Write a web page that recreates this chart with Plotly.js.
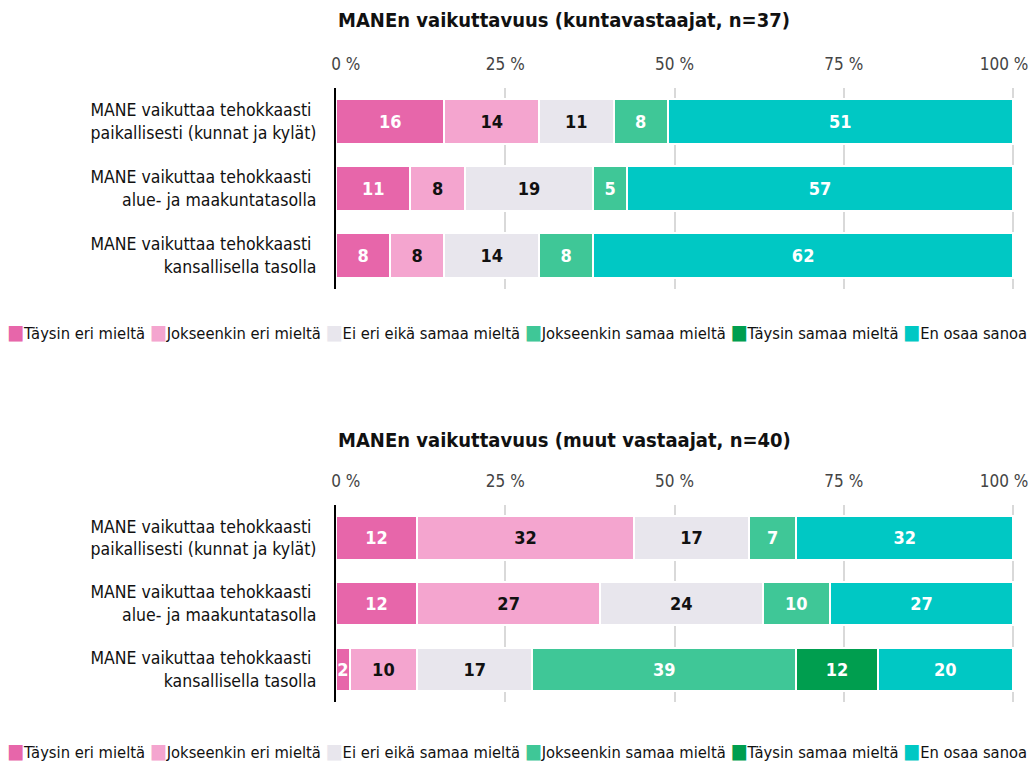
<!DOCTYPE html>
<html><head><meta charset="utf-8">
<script src="https://cdn.plot.ly/plotly-3.0.1.min.js"></script>
<style>html,body{margin:0;padding:0;background:#fff}#chart{width:1034px;height:765px}
svg text{font-stretch:condensed !important}</style>
</head><body><div id="chart"></div>
<script>
const categories = [
  "MANE vaikuttaa tehokkaasti <br>paikallisesti (kunnat ja kylät)",
  "MANE vaikuttaa tehokkaasti <br>alue- ja maakuntatasolla",
  "MANE vaikuttaa tehokkaasti <br>kansallisella tasolla"
];
const seriesNames = ["Täysin eri mieltä", "Jokseenkin eri mieltä", "Ei eri eikä samaa mieltä", "Jokseenkin samaa mieltä", "Täysin samaa mieltä", "En osaa sanoa"];
const seriesColors = ["#e766aa", "#f4a5cf", "#e8e6ed", "#3fc797", "#009e4f", "#00c8c4"];
const labelColors = ["#ffffff", "#111111", "#111111", "#ffffff", "#ffffff", "#ffffff"];

const tickVals = [0, 25, 50, 75, 100];
const tickLabels = ["0 %", "25 %", "50 %", "75 %", "100 %"];

const title1 = "MANEn vaikuttavuus (kuntavastaajat, n=37)";
const kunta_taysinEri = [16, 11, 8];
const kunta_jokseenkinEri = [14, 8, 8];
const kunta_eiEri = [11, 19, 14];
const kunta_jokseenkinSamaa = [8, 5, 8];
const kunta_taysinSamaa = [0, 0, 0];
const kunta_enOsaa = [51, 57, 62];

const title2 = "MANEn vaikuttavuus (muut vastaajat, n=40)";
const muut_taysinEri = [12, 12, 2];
const muut_jokseenkinEri = [32, 27, 10];
const muut_eiEri = [17, 24, 17];
const muut_jokseenkinSamaa = [7, 10, 39];
const muut_taysinSamaa = [0, 0, 12];
const muut_enOsaa = [32, 27, 20];

const FONT = "'DejaVu Sans Condensed', 'DejaVu Sans', sans-serif";

const kunta = [kunta_taysinEri, kunta_jokseenkinEri, kunta_eiEri, kunta_jokseenkinSamaa, kunta_taysinSamaa, kunta_enOsaa];
const muut = [muut_taysinEri, muut_jokseenkinEri, muut_eiEri, muut_jokseenkinSamaa, muut_taysinSamaa, muut_enOsaa];

const traces = [];
function addTraces(sets, xa, ya) {
  sets.forEach((vals, i) => {
    traces.push({
      type: "bar", orientation: "h",
      x: vals, y: categories, xaxis: xa, yaxis: ya,
      name: seriesNames[i], showlegend: false,
      marker: {color: seriesColors[i], line: {color: "#ffffff", width: 2}},
      text: vals.map(v => v > 0 ? String(v) : ""),
      textposition: "inside", insidetextanchor: "middle",
      textfont: {family: FONT, size: 18, color: labelColors[i], weight: "bold"},
      hoverinfo: "name+x", width: 0.66
    });
  });
}
addTraces(kunta, "x", "y");
addTraces(muut, "x2", "y2");

// end labels kept inside the plot width (like the reference)
const NB = "\u00a0";
const last = tickLabels.length - 1;
const mainTicks = tickLabels.map((t, i) => i === 0 ? NB.repeat(4) + t : (i === last ? "" : t));

const RMAX = 100.5;
const xDom = [336/1034, (336 + 677 * RMAX / 100)/1034];
const tickFont = {family: FONT, size: 17, color: "#444"};
function xAxis(anchor) {
  return {
    domain: xDom, range: [0, RMAX], side: "top", anchor: anchor,
    tickvals: tickVals, ticktext: mainTicks,
    showgrid: true, gridcolor: "#d9d9d9", gridwidth: 2, zeroline: false,
    showline: false, ticks: "", ticklabelstandoff: 14,
    tickfont: tickFont, fixedrange: true
  };
}
function xAxisEnd(anchor, over) {
  return {
    domain: xDom, range: [0, RMAX], side: "top", anchor: anchor, overlaying: over,
    tickvals: [tickVals[last]], ticktext: [tickLabels[last]], ticklabelshift: -9,
    showgrid: false, zeroline: false, showline: false, ticks: "", ticklabelstandoff: 14,
    tickfont: tickFont, fixedrange: true
  };
}
function yAxis(dom, anchor) {
  return {
    domain: dom, anchor: anchor, autorange: "reversed", type: "category",
    showline: true, linecolor: "#000", linewidth: 2, showgrid: false,
    ticks: "", ticklabelstandoff: 14,
    tickfont: {family: FONT, size: 17.5, color: "#111"}, fixedrange: true
  };
}

function legendText() {
  return seriesNames.map((n, i) =>
    "<span style='color:" + seriesColors[i] + ";font-size:20px'>■</span>" + n).join(" ");
}

// dummy invisible traces so the overlay axes are drawn
traces.push({type: "bar", orientation: "h", x: [], y: [], xaxis: "x3", yaxis: "y", showlegend: false, hoverinfo: "skip"});
traces.push({type: "bar", orientation: "h", x: [], y: [], xaxis: "x4", yaxis: "y2", showlegend: false, hoverinfo: "skip"});

const layout = {
  width: 1034, height: 765,
  margin: {l: 0, r: 0, t: 0, b: 0},
  paper_bgcolor: "#fff", plot_bgcolor: "#fff",
  barmode: "stack", bargap: 0.34,
  showlegend: false,
  uniformtext: {mode: "show", minsize: 18},
  font: {family: FONT, color: "#111"},
  xaxis: xAxis("y"),
  yaxis: yAxis([1 - 289/765, 1 - 88/765], "x"),
  xaxis2: xAxis("y2"),
  yaxis2: yAxis([1 - 702/765, 1 - 505/765], "x2"),
  xaxis3: xAxisEnd("y", "x"),
  xaxis4: xAxisEnd("y2", "x2"),
  annotations: [
    {text: "<b>" + title1 + "</b>", xref: "paper", yref: "paper", x: 564/1034, y: 1 - 20/765,
     showarrow: false, xanchor: "center", yanchor: "middle", font: {family: FONT, size: 20, color: "#111"}},
    {text: "<b>" + title2 + "</b>", xref: "paper", yref: "paper", x: 564/1034, y: 1 - 440/765,
     showarrow: false, xanchor: "center", yanchor: "middle", font: {family: FONT, size: 20, color: "#111"}},
    {text: legendText(), xref: "paper", yref: "paper", x: 517/1034, y: 1 - 332/765,
     showarrow: false, xanchor: "center", yanchor: "middle", font: {family: FONT, size: 16.4, color: "#111"}},
    {text: legendText(), xref: "paper", yref: "paper", x: 517/1034, y: 1 - 751/765,
     showarrow: false, xanchor: "center", yanchor: "middle", font: {family: FONT, size: 16.4, color: "#111"}}
  ]
};

Plotly.newPlot("chart", traces, layout, {displayModeBar: false, staticPlot: true});
</script></body></html>
